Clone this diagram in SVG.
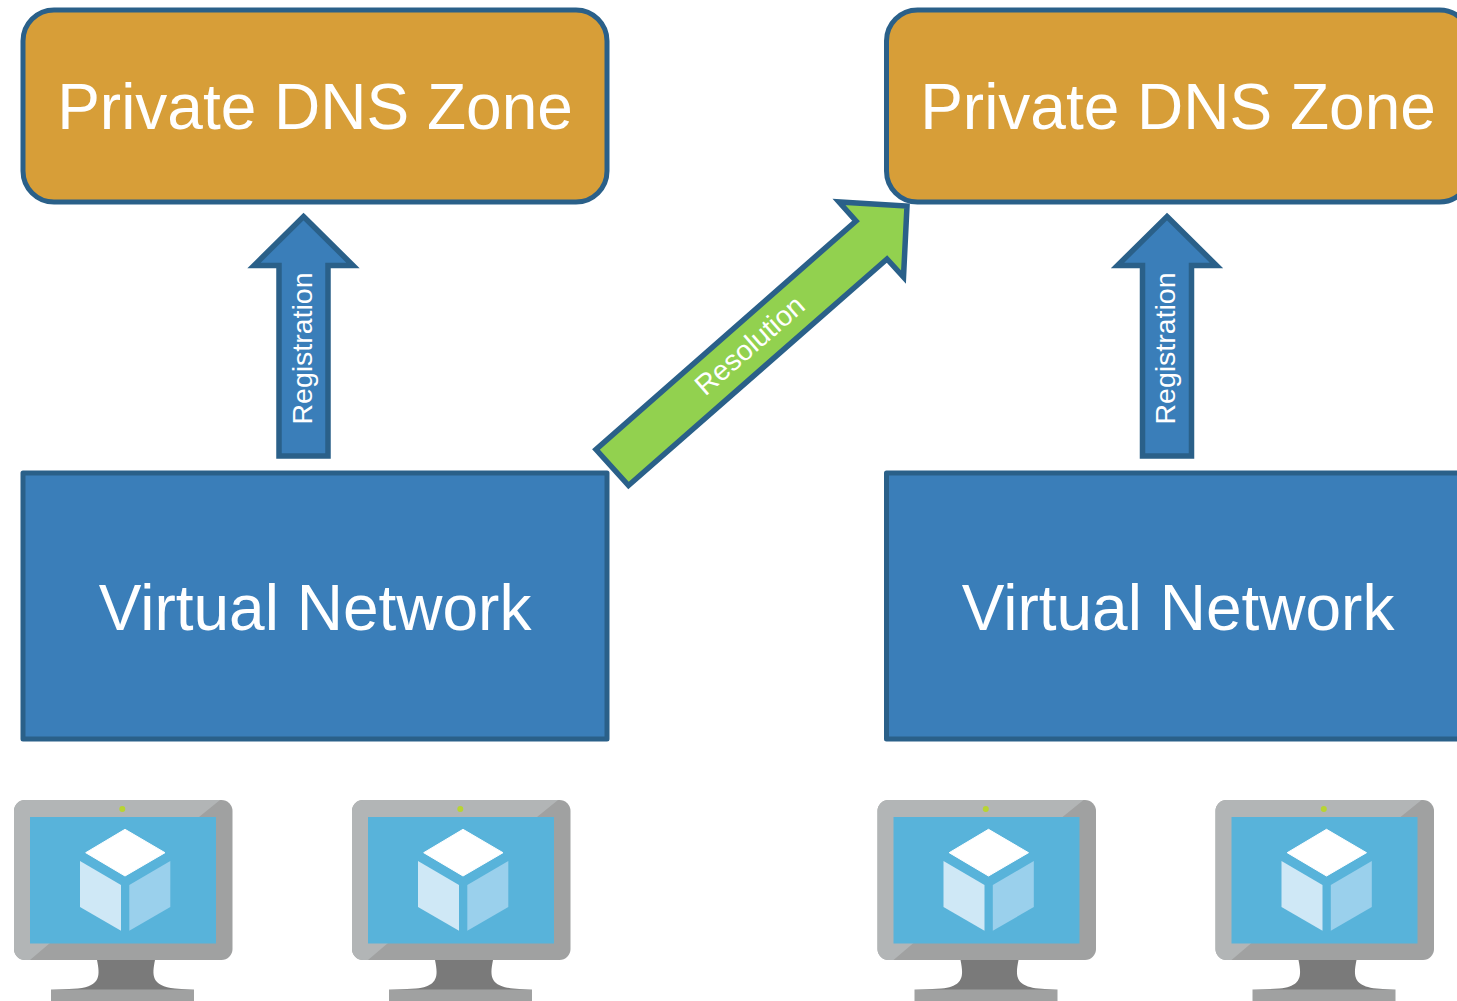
<svg xmlns="http://www.w3.org/2000/svg" width="1457" height="1001" viewBox="0 0 1457 1001">
<style>
text{font-family:"Liberation Sans",Arial,sans-serif;fill:#fff}
.big{font-size:64px;text-anchor:middle}
.small{font-size:28.500px;text-anchor:middle}
.zone{fill:#d79e38;stroke:#2a6089;stroke-width:5}
.vnet{fill:#3a7eb9;stroke:#2a6089;stroke-width:5;stroke-linejoin:round}
.up{fill:#3a7eb9;stroke:#2a6089;stroke-width:5.500;stroke-miterlimit:10}
.res{fill:#92d14f;stroke:#2a6089;stroke-width:5.500;stroke-miterlimit:10}
</style>
<defs>
<symbol id="vm" width="240" height="211" viewBox="0 790 240 211" overflow="visible">
<rect x="14" y="800" width="218.500" height="160" rx="11" fill="#a0a1a1"/>
<path d="M220 800H25A11 11 0 0 0 14 811V949A11 11 0 0 0 25 960H30L50 943H199V817Z" fill="#b2b5b6"/>
<rect x="30" y="817" width="186" height="126.500" fill="#58b3da"/>
<circle cx="122.300" cy="809" r="3" fill="#b8d432"/>
<path d="M97 960H155C152 975 151 986 175 988.500L194 990H51L78 988.500C101 986 100 975 97 960Z" fill="#7a7a7a"/>
<rect x="51" y="989.500" width="143" height="11.500" fill="#a0a1a1"/>
<path d="M125 829.300L165 852.700L125 876L85.700 852.700Z" fill="#fff" stroke="#fff" stroke-width="1" stroke-linejoin="round"/>
<path d="M80 861L121 885V930.700L80 907Z" fill="#cfe8f6"/>
<path d="M129.300 885L170.300 861V907L129.300 930.700Z" fill="#9ad0ec"/>
</symbol>
</defs>
<g id="connectors">
<g id="registration-left">
<path class="up" d="M303.500 216.500L353 265.500H328V456H279V265.500H254Z"/>
<text class="small" transform="translate(311.500 348.500) rotate(-90)">Registration</text>
</g>
<g id="registration-right">
<path class="up" d="M1167 216.500L1216.500 265.500H1191.500V456H1142.500V265.500H1117.500Z"/>
<text class="small" transform="translate(1175 348.500) rotate(-90)">Registration</text>
</g>
<g id="resolution">
<path class="res" d="M596 449.500L628.500 485.500L887 259L903.500 277L907 206L839 202L856 221Z"/>
<text class="small" transform="translate(756 352.500) rotate(-41)">Resolution</text>
</g>
</g>
<g id="zone-left">
<rect class="zone" x="23" y="10" width="584" height="192" rx="31"/>
<text class="big" x="315" y="128.500">Private DNS Zone</text>
</g>
<g id="zone-right">
<rect class="zone" x="886.500" y="10" width="584" height="192" rx="31"/>
<text class="big" x="1178" y="128.500">Private DNS Zone</text>
</g>
<g id="vnet-left">
<rect class="vnet" x="23" y="473" width="584" height="266"/>
<text class="big" x="315" y="629.500">Virtual Network</text>
</g>
<g id="vnet-right">
<rect class="vnet" x="886.500" y="473" width="584" height="266"/>
<text class="big" x="1178" y="629.500">Virtual Network</text>
</g>
<g id="vm-1"><use href="#vm" x="0" y="790"/></g>
<g id="vm-2"><use href="#vm" x="338" y="790"/></g>
<g id="vm-3"><use href="#vm" x="863.500" y="790"/></g>
<g id="vm-4"><use href="#vm" x="1201.500" y="790"/></g>
</svg>
